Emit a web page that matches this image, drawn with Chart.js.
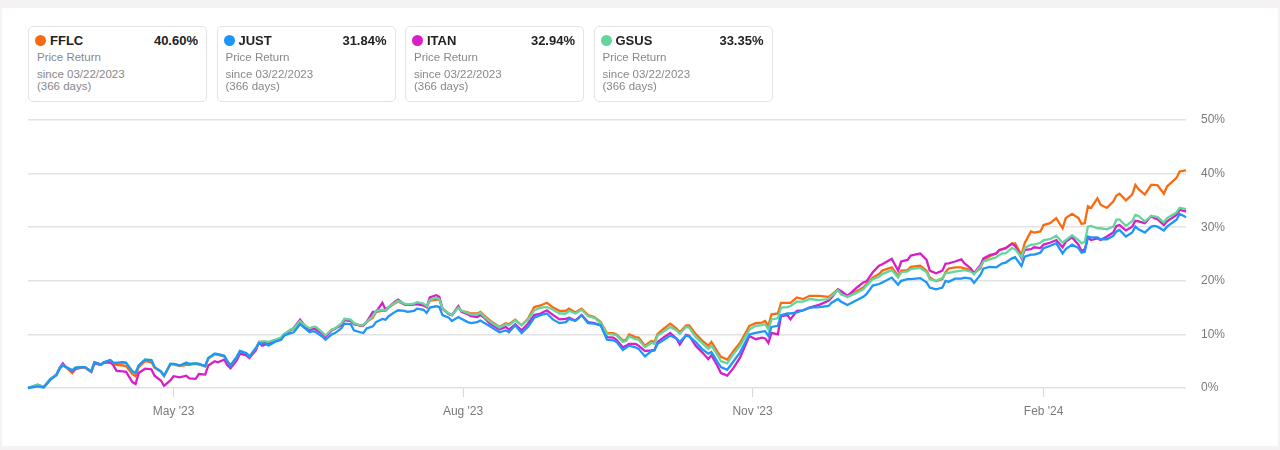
<!DOCTYPE html>
<html><head><meta charset="utf-8">
<script src="https://cdn.jsdelivr.net/npm/chart.js@4.4.1/dist/chart.umd.min.js"></script>
<style>
html,body{margin:0;padding:0;}
body{width:1280px;height:450px;background:#f4f2f2;position:relative;overflow:hidden;font-family:"Liberation Sans",Arial,sans-serif;}
#panel{position:absolute;left:2px;top:8px;width:1276px;height:438px;background:#fff;}
#chart{position:absolute;left:0;top:0;}
.card{position:absolute;top:26px;width:179px;height:76px;box-sizing:border-box;border:1px solid #e3e3e3;border-radius:5px;background:#fff;}
.dot{position:absolute;left:6px;top:8px;width:11px;height:11px;border-radius:50%;}
.tk{position:absolute;left:21px;top:7px;font-size:13px;line-height:14px;font-weight:bold;color:#222;}
.val{position:absolute;right:8px;top:7px;font-size:13px;line-height:14px;font-weight:bold;color:#222;}
.l1,.l2,.l3{position:absolute;left:8px;font-size:11.5px;line-height:13px;color:#888;}
.l1{top:24px;}.l2{top:41px;}.l3{top:53px;}
</style></head>
<body>
<div id="panel"></div>
<canvas id="chart" width="1280" height="450"></canvas>
<div id="cards"></div>
<script>
const tickers = ["FFLC", "JUST", "ITAN", "GSUS"];
const seriesColors = ["#fb6a0e", "#1e95f8", "#d61fc6", "#62d69d"];
const totalReturns = ["40.60%", "31.84%", "32.94%", "33.35%"];
const sinceText = "since 03/22/2023";
const daysText = "(366 days)";
const tickDays = [46, 137.5, 229, 321];
const tickLabels = ["May '23", "Aug '23", "Nov '23", "Feb '24"];
const yTicks = [0, 10, 20, 30, 40, 50];

// days since start of the window
const days = [0,3,5,7,9,10,11,12,14,15,17,18,20,21,23,24,26,27,28,30,31,33,34,35,37,39,40,42,43,45,46,48,50,51,53,54,56,57,59,60,62,63,64,66,67,69,70,72,73,
74,75,76,78,80,81,83,84,86,87,89,90,91,93,94,96,97,99,100,102,103,105,106,107,109,110,112,113,114,116,117,119,120,122,123,125,126,127,129,130,131,133,134,136,137,139,140,142,143,144,146,
149,151,152,154,156,158,160,162,164,166,168,170,171,173,175,177,179,181,183,185,186,188,189,190,192,193,195,197,198,199,201,203,205,206,208,209,211,213,215,216,218,219,221,
223,225,228,230,232,233,234,235,237,238,240,241,243,245,247,250,253,254,256,257,259,262,264,265,267,269,270,273,275,276,278,279,282,284,285,287,289,290,
291,293,295,296,298,299,301,302,304,306,307,308,309,311,312,314,315,317,318,320,321,323,325,327,328,330,332,333,334,335,336,338,339,341,343,344,345,347,349,350,351,353,355,356,357,359,360,363,364,366];

const fflc = [0,0.5,0.2,1.6,2.5,3.7,4.3,3.9,2.8,3.5,3.8,3.9,3.1,4.7,4.4,4.8,5.1,4.5,4.3,4.2,4.1,2.6,2.2,3.9,5.0,4.8,3.8,3.0,2.2,4.4,4.4,4.1,4.3,4.3,4.5,4.4,4.0,5.5,6.3,6.2,5.9,5.0,4.2,5.7,6.8,6.4,5.7,7.3,8.5,
8.6,8.6,8.5,8.9,9.3,10.0,10.8,11.0,12.3,11.8,10.9,11.3,11.3,10.3,9.7,10.8,11.0,11.9,12.6,12.6,12.0,11.6,11.7,12.3,13.1,14.2,14.4,14.4,15.0,15.8,16.1,15.6,15.5,15.6,15.75,15.6,15.1,16.25,16.5,16.5,14.8,13.9,13.6,15.1,14.4,14.1,13.9,13.9,14.2,13.6,12.6,
11.4,12.1,11.9,12.75,11.7,12.9,15.1,15.4,15.9,15.0,14.4,14.4,14.8,14.1,14.8,13.6,13.25,12.3,10.25,10.25,10.0,8.9,9.0,10.0,9.5,9.4,7.9,8.75,8.6,10.1,11.1,12.0,11.1,10.4,11.7,11.7,10.1,8.9,7.9,8.6,6.7,5.8,5.3,
6.9,8.4,11.6,12.1,12.2,12.5,11.6,13.75,13.9,15.9,15.9,15.9,16.9,16.6,17.2,17.2,17.0,17.4,18.4,17.5,17.2,18.1,18.75,19.4,20.6,21.25,21.9,22.5,20.9,21.9,22.0,22.6,22.8,21.9,20.6,19.9,20.3,21.6,
22.3,22.5,22.5,22.3,22.0,21.4,22.3,23.9,24.6,25.1,25.75,25.9,26.1,27.0,27.0,24.8,27.0,29.2,29.0,29.2,30.4,30.75,31.7,29.8,31.7,32.5,31.7,30.6,30.75,33.9,33.6,35.4,34.2,33.6,34.8,35.9,36.25,35.0,36.1,37.9,37.1,36.1,37.9,37.9,37.8,36.25,37.6,39.2,40.4,40.6];

const just = [0,0.3,0.1,1.5,2.4,3.6,4.2,3.9,3.3,3.8,3.9,3.9,3.1,4.8,4.4,4.8,5.2,4.7,4.7,4.8,4.7,3.1,2.8,4.2,5.3,5.2,3.9,3.1,2.3,4.5,4.5,4.2,4.7,4.5,4.6,4.5,4.1,5.6,6.4,6.3,6.0,5.0,4.2,5.8,6.9,6.5,5.9,7.4,8.4,
8.25,8.4,7.9,8.6,9.0,9.8,10.25,10.4,11.9,11.4,10.4,10.6,10.4,9.6,9.0,10.0,10.25,11.1,12.0,11.9,10.75,10.4,10.25,11.1,11.5,12.3,12.9,12.75,13.4,14.2,14.5,14.4,14.2,14.4,14.8,14.6,14.0,15.0,15.25,15.1,13.6,13.1,12.5,13.25,12.9,12.3,12.1,12.3,12.6,12.2,11.5,
10.4,10.75,10.4,11.7,10.25,11.4,13.1,13.6,13.9,12.75,12.1,12.3,12.9,12.5,13.6,12.1,12.0,11.7,9.0,8.9,8.6,7.1,7.5,7.9,7.6,7.3,5.9,6.9,7.0,8.25,9.0,9.8,9.2,8.6,9.8,9.6,8.6,7.3,6.4,6.7,4.8,3.9,3.4,
5.0,6.6,10.0,10.3,10.5,10.6,9.7,11.4,11.6,13.6,13.9,13.9,14.1,14.5,15.0,15.1,15.3,15.9,16.6,16.1,15.5,16.4,17.0,17.5,19.1,19.4,19.7,20.6,19.25,20.0,20.3,20.3,20.5,19.7,18.75,18.4,18.75,20.0,
19.8,20.4,20.4,20.6,20.4,19.6,21.1,22.3,22.6,22.5,22.9,23.25,23.4,24.2,24.4,22.75,24.5,24.9,24.9,25.25,26.1,26.5,27.0,25.1,25.9,26.75,26.1,25.25,25.4,28.25,28.1,28.1,27.75,27.75,28.4,29.2,29.5,28.25,29.0,30.1,29.6,29.0,30.1,30.25,30.1,29.4,30.1,31.4,32.5,31.84];

const itan = [0,0.6,0.2,1.6,2.5,3.8,4.6,3.9,3.1,3.6,3.9,3.8,3.0,4.6,4.3,4.7,4.8,4.2,3.2,3.1,3.0,1.1,0.75,2.8,3.6,3.5,2.3,1.4,0.4,1.4,2.2,2.0,2.3,1.8,1.7,2.6,2.5,4.2,5.0,4.8,5.3,4.3,3.7,5.2,6.4,6.1,5.6,7.0,8.5,
7.9,8.1,8.3,8.8,9.3,10.0,10.8,11.2,12.75,12.0,10.75,11.1,10.9,10.1,9.5,10.75,11.1,11.7,12.75,12.5,11.9,11.7,11.7,12.3,14.2,14.2,15.9,14.6,15.1,16.1,16.5,15.6,15.5,15.6,15.6,15.4,15.1,16.9,17.3,17.0,14.8,13.75,13.6,15.25,14.2,13.75,13.4,13.25,13.6,13.2,12.0,
10.9,11.4,10.9,11.9,10.75,12.0,13.6,13.9,14.5,13.6,12.8,12.9,13.1,12.6,13.6,12.3,12.1,11.7,9.5,9.4,9.0,7.6,7.9,8.25,8.25,7.9,6.9,7.0,7.1,8.6,9.5,10.25,9.2,8.1,9.9,9.75,7.9,6.7,5.4,6.1,4.0,2.8,2.3,
3.75,5.6,9.7,9.1,9.4,9.25,8.4,10.3,10.0,13.4,13.6,12.8,14.4,14.5,15.0,15.5,16.25,16.9,18.4,18.1,17.2,18.75,19.7,19.9,21.6,22.8,23.1,24.1,21.9,23.6,23.9,24.7,25.1,23.9,21.9,21.4,21.9,23.2,
23.25,23.6,24.0,23.25,22.3,21.4,22.9,24.2,24.8,25.1,25.75,25.9,26.1,26.9,26.5,24.2,25.75,25.9,26.25,26.1,26.75,27.1,27.6,26.25,27.3,28.1,26.75,25.5,25.9,28.1,27.6,27.9,27.6,28.25,29.0,30.25,30.4,29.4,30.1,31.2,31.1,30.75,32.1,31.7,31.5,30.4,31.1,32.3,33.25,32.94];

const gsus = [0,0.6,0.2,1.6,2.5,3.7,4.3,3.9,3.3,3.8,3.9,3.9,3.1,4.8,4.4,4.8,5.2,4.7,4.7,4.8,4.7,3.1,2.8,4.2,5.3,5.2,3.9,3.1,2.3,4.5,4.5,4.2,4.7,4.5,4.6,4.5,4.1,5.6,6.4,6.3,6.0,5.0,4.2,5.8,6.9,6.5,5.9,7.4,8.6,
8.7,8.7,8.6,9.0,9.4,10.1,10.9,11.1,12.5,11.9,11.1,11.4,11.4,10.4,9.8,10.9,11.1,12.0,12.9,12.75,12.1,11.7,11.8,12.3,13.4,14.4,14.6,14.5,15.1,15.9,16.25,15.75,15.6,15.75,16.0,15.75,15.25,16.4,16.9,16.6,14.8,13.9,13.6,15.0,14.4,14.0,13.75,13.75,14.0,13.4,12.4,
11.25,11.9,11.7,12.6,11.7,12.75,14.5,15.0,15.1,14.6,13.9,13.9,14.4,13.9,14.6,13.4,13.1,12.1,10.1,10.0,9.8,8.6,8.75,9.6,9.1,9.0,7.6,8.4,8.25,9.8,10.6,11.4,10.75,10.1,11.4,11.25,9.5,8.4,7.3,7.9,6.1,5.0,4.6,
6.4,7.8,10.9,11.6,11.75,11.9,10.9,12.8,13.0,15.0,15.1,15.3,16.1,16.1,16.6,16.4,16.6,17.2,18.25,17.5,17.0,17.8,18.4,19.1,20.3,20.75,21.25,22.0,20.6,21.6,21.75,22.2,22.4,21.6,20.3,20.0,20.5,21.4,
21.5,21.7,21.9,22.0,21.7,21.25,22.6,23.6,24.0,24.4,24.8,25.1,25.1,26.1,25.9,24.4,26.1,26.75,26.75,27.1,27.6,27.75,28.4,27.1,27.6,28.5,27.6,27.0,27.3,30.1,30.25,29.8,29.8,29.6,30.1,31.4,31.4,30.25,31.1,32.3,32.1,31.1,32.1,32.0,31.9,30.9,31.7,32.75,33.6,33.35];

const seriesValues = [fflc, just, itan, gsus];
const drawOrder = [3, 0, 2, 1];

// legend cards
const cardsEl = document.getElementById('cards');
tickers.forEach((t, i) => {
  const c = document.createElement('div');
  c.className = 'card';
  c.style.left = (28 + i * 188.5) + 'px';
  c.innerHTML = '<div class="dot" style="background:' + seriesColors[i] + '"></div>' +
    '<div class="tk">' + t + '</div><div class="val">' + totalReturns[i] + '</div>' +
    '<div class="l1">Price Return</div><div class="l2">' + sinceText + '</div><div class="l3">' + daysText + '</div>';
  cardsEl.appendChild(c);
});

Chart.defaults.font.family = '"Liberation Sans", Arial, sans-serif';
new Chart(document.getElementById('chart'), {
  type: 'line',
  data: {
    datasets: tickers.map((t, i) => ({
      label: t,
      data: days.map((d, j) => ({ x: d, y: seriesValues[i][j] })),
      borderColor: seriesColors[i],
      backgroundColor: seriesColors[i],
      borderWidth: 2.3,
      pointRadius: 0,
      tension: 0,
      fill: false,
      clip: false,
      order: drawOrder[i]
    }))
  },
  options: {
    responsive: false,
    animation: false,
    events: [],
    layout: { padding: { left: 28, top: 120, right: 0, bottom: 0 } },
    plugins: { legend: { display: false }, tooltip: { enabled: false } },
    scales: {
      x: {
        type: 'linear', min: 0, max: 366,
        afterBuildTicks: s => { s.ticks = tickDays.map(v => ({ value: v })); },
        afterFit: s => { s.height = 62; },
        ticks: { autoSkip: false, maxRotation: 0, padding: 7, color: '#7a7a7a', font: { size: 12 },
                 callback: (v, i) => tickLabels[i] },
        grid: { drawOnChartArea: false, drawTicks: true, tickLength: 9, color: '#d9d9d9', lineWidth: 1 },
        border: { display: false }
      },
      y: {
        position: 'right', min: 0, max: 50,
        afterBuildTicks: s => { s.ticks = yTicks.map(v => ({ value: v })); },
        afterFit: s => { s.width = 94; },
        ticks: { padding: 15, color: '#7a7a7a', font: { size: 12 }, callback: v => v + '%' },
        grid: { color: '#e2e2e2', lineWidth: 1.5, drawTicks: false },
        border: { display: false }
      }
    }
  }
});
</script>
</body></html>
